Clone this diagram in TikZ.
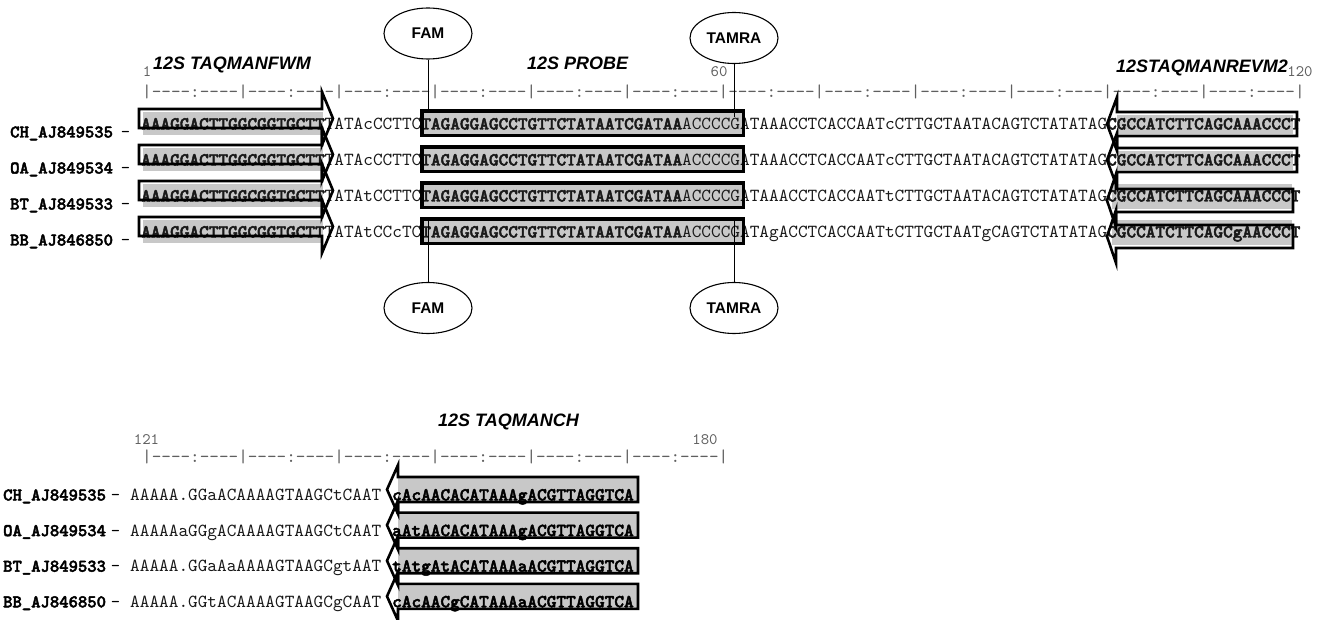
\documentclass[tikz,border=0pt]{standalone}
\usepackage{fontspec}
\newfontfamily\hlvf{Liberation Sans}
\newfontfamily\seqf{lmmono10-regular.otf}[BoldFont=lmmonolt10-bold.otf, BoldFeatures={FakeBold=2.5}, Ligatures=TeXOff]
\usetikzlibrary{shapes.geometric}
\definecolor{hl}{RGB}{200,200,200}
\definecolor{rul}{RGB}{95,95,95}
\definecolor{seqc}{RGB}{25,25,25}
\newcommand\rseg{-\kern0pt-\kern0pt-\kern0pt-:-\kern0pt-\kern0pt-\kern0pt-|}
\tikzset{
  seqtext/.style={anchor=base west, inner sep=0pt, font=\seqf\fontsize{18.4}{20}\selectfont, text=seqc},
  lbltext/.style={anchor=base west, inner sep=0pt, font=\seqf\fontsize{17.8}{20}\selectfont, text=black},
  rulertext/.style={anchor=base west, inner sep=0pt, font=\seqf\fontsize{18.3}{20}\selectfont, text=rul},
  numtext/.style={anchor=base, inner sep=0pt, font=\seqf\fontsize{16}{18}\selectfont, text=rul},
  ttl/.style={anchor=base west, inner sep=0pt, font=\hlvf\bfseries\itshape\fontsize{18}{20}\selectfont},
  dye/.style={ellipse, draw, line width=1.1pt, minimum width=88pt, minimum height=51pt, inner sep=0pt, font=\hlvf\bfseries\fontsize{15.5}{17}\selectfont},
  primer/.style={draw=black, line width=2.6pt, line join=miter, miter limit=20},
  probeline/.style={draw=black, line width=3.6pt},
  probefill/.style={fill=hl, draw=none, inner sep=0pt, anchor=north west, minimum width=321pt, minimum height=24pt},
  link/.style={draw, line width=1pt},
}
\begin{document}
\begin{tikzpicture}[x=1pt,y=-1pt]
\useasboundingbox (0,0) rectangle (1323,620);

% ---------- titles and numbers (top) ----------
\node[ttl] (tfwm) at (153,70) {12S TAQMANFWM};
\node[ttl] (tprobe) at (527,69.5) {12S PROBE};
\node[ttl] (trev) at (1116,72.5) {12STAQMANREVM2};
\node[numtext] (n1) at (147,77) {1};
\node[numtext] (n60) at (719,77) {60};
\node[numtext] (n120) at (1300,77) {120};
\node[rulertext] (rul1) at (142,98) {|\rseg\rseg\rseg\rseg\rseg\rseg\rseg\rseg\rseg\rseg\rseg\rseg};

% ---------- highlight fills (top) ----------
\foreach \r in {0,1,2,3}{
  \fill[hl] (143,112+36*\r) rectangle (323,135+36*\r);
}
\fill[hl] (1117,115) rectangle (1293,134);
\fill[hl] (1117,151) rectangle (1293,170);
\fill[hl] (1112,184) rectangle (1292,209);
\fill[hl] (1112,220) rectangle (1292,245);
\node[probefill] (probe1) at (422,111) {};
\node[probefill] (probe2) at (422,147) {};
\node[probefill] (probe3) at (422,183) {};
\node[probefill] (probe4) at (422,219) {};

% ---------- sequences (top) ----------
\node[lbltext] (l1) at (10,137.5) {{\bfseries CH\_AJ849535}\hspace{8pt}–};
\node[lbltext] (l2) at (10,173.5) {{\bfseries OA\_AJ849534}\hspace{8pt}–};
\node[lbltext] (l3) at (10,209.5) {{\bfseries BT\_AJ849533}\hspace{8pt}–};
\node[lbltext] (l4) at (10,245.5) {{\bfseries BB\_AJ846850}\hspace{8pt}–};

\node[seqtext] (s1) at (141,129.5) {\textbf{AAAGGACTTGGCGGTGCTT}TATAcCCTTC\textbf{TAGAGGAGCCTGTTCTATAATCGATAA}ACCCCGATAAACCTCACCAATcCTTGCTAATACAGTCTATATAG\textbf{CGCCATCTTCAGCAAACCCT}};
\node[seqtext] (s2) at (141,165.5) {\textbf{AAAGGACTTGGCGGTGCTT}TATAcCCTTC\textbf{TAGAGGAGCCTGTTCTATAATCGATAA}ACCCCGATAAACCTCACCAATcCTTGCTAATACAGTCTATATAG\textbf{CGCCATCTTCAGCAAACCCT}};
\node[seqtext] (s3) at (141,201.5) {\textbf{AAAGGACTTGGCGGTGCTT}TATAtCCTTC\textbf{TAGAGGAGCCTGTTCTATAATCGATAA}ACCCCGATAAACCTCACCAATtCTTGCTAATACAGTCTATATAG\textbf{CGCCATCTTCAGCAAACCCT}};
\node[seqtext] (s4) at (141,237.5) {\textbf{AAAGGACTTGGCGGTGCTT}TATAtCCcTC\textbf{TAGAGGAGCCTGTTCTATAATCGATAA}ACCCCGATAgACCTCACCAATtCTTGCTAATgCAGTCTATATAG\textbf{CGCCATCTTCAGCgAACCCT}};

% ---------- primer outlines (top) ----------
\foreach \r in {0,1,2,3}{
  \draw[primer] (139,109+36*\r) -- (322,109+36*\r) -- (322,92+36*\r) -- (333,118.5+36*\r)
     -- (322,145+36*\r) -- (322,128+36*\r) -- (139,128+36*\r) -- cycle;
}
\foreach \r in {0,1}{
  \draw[primer] (1297,112+36*\r) -- (1117,112+36*\r) -- (1117,97+36*\r) -- (1107,124+36*\r)
     -- (1117,151+36*\r) -- (1117,136+36*\r) -- (1297,136+36*\r) -- cycle;
}
\foreach \r in {2,3}{
  \draw[primer] (1293,117+36*\r) -- (1116,117+36*\r) -- (1116,102+36*\r) -- (1107,128.5+36*\r)
     -- (1116,155+36*\r) -- (1116,140+36*\r) -- (1293,140+36*\r) -- cycle;
}
\foreach \p in {probe1,probe2,probe3,probe4}{
  \draw[probeline] (\p.north west) rectangle (\p.south east);
}

% ---------- dyes ----------
\node[dye] (famT) at (428,33.5) {FAM};
\node[dye] (tamT) at (734,38) {TAMRA};
\node[dye] (famB) at (428,308) {FAM};
\node[dye] (tamB) at (734,308) {TAMRA};
\coordinate (famTe) at (428,112);
\coordinate (tamTe) at (734,117);
\coordinate (famBe) at (428,221);
\coordinate (tamBe) at (734,221);
\draw[link] (famT.south) -- (famTe);
\draw[link] (tamT.south) -- (tamTe);
\draw[link] (famBe) -- (famB.north);
\draw[link] (tamBe) -- (tamB.north);

% ---------- bottom block ----------
\node[ttl] (tch) at (438,426) {12S TAQMANCH};
\node[numtext] (n121) at (146.5,444) {121};
\node[numtext] (n180) at (705,444) {180};
\node[rulertext] (rul2) at (142,462) {|\rseg\rseg\rseg\rseg\rseg\rseg};

\foreach \r in {0,1,2,3}{
  \fill[hl] (398,477+35.6*\r) rectangle (638,502+35.6*\r);
}

\node[lbltext] (b1) at (3,500.5) {{\bfseries CH\_AJ849535}\hspace{5pt}–};
\node[lbltext] (b2) at (3,536.1) {{\bfseries OA\_AJ849534}\hspace{5pt}–};
\node[lbltext] (b3) at (3,571.7) {{\bfseries BT\_AJ849533}\hspace{5pt}–};
\node[lbltext] (b4) at (3,607.3) {{\bfseries BB\_AJ846850}\hspace{5pt}–};

\node[seqtext] (c1) at (130,500.5) {AAAAA.GGaACAAAAGTAAGCtCAAT};
\node[seqtext] (c2) at (130,536.1) {AAAAAaGGgACAAAAGTAAGCtCAAT};
\node[seqtext] (c3) at (130,571.7) {AAAAA.GGaAaAAAAGTAAGCgtAAT};
\node[seqtext] (c4) at (130,607.3) {AAAAA.GGtACAAAAGTAAGCgCAAT};

\node[seqtext,text=black] (d1) at (392,500.5) {\textbf{cAcAACACATAAAgACGTTAGGTCA}};
\node[seqtext,text=black] (d2) at (392,536.1) {\textbf{aAtAACACATAAAgACGTTAGGTCA}};
\node[seqtext,text=black] (d3) at (392,571.7) {\textbf{tAtgAtACATAAAaACGTTAGGTCA}};
\node[seqtext,text=black] (d4) at (392,607.3) {\textbf{cAcAACgCATAAAaACGTTAGGTCA}};

\foreach \r in {0,1,2,3}{
  \draw[primer] (638,477+35.6*\r) -- (398,477+35.6*\r) -- (398,465+35.6*\r) -- (387,489.5+35.6*\r)
     -- (398,514+35.6*\r) -- (398,502+35.6*\r) -- (638,502+35.6*\r) -- cycle;
}
\end{tikzpicture}
\end{document}
